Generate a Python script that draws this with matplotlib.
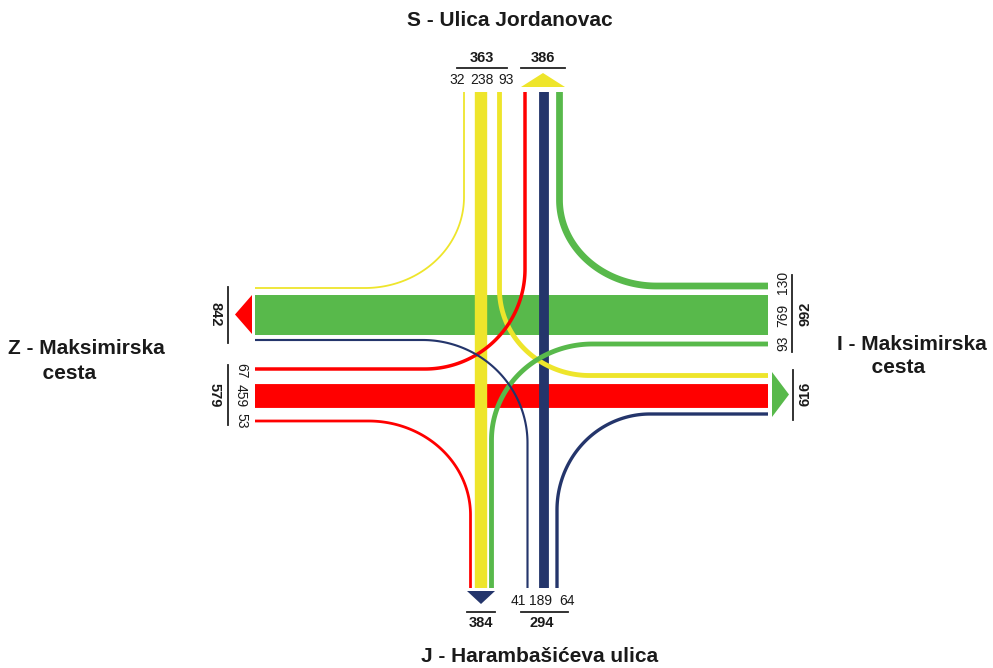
import numpy as np
import matplotlib.pyplot as plt

plt.rcParams['font.family'] = ['Liberation Sans', 'DejaVu Sans']

# counted vehicles per approach, in the order the labels are printed
north = [32, 238, 93]     # right, through, left  (left -> right at the top)
east = [130, 769, 93]     # right, through, left  (top -> bottom on the right)
west = [67, 459, 53]      # left, through, right  (top -> bottom on the left)
south = [41, 189, 64]     # left, through, right  (left -> right at the bottom)

legs = ['S - Ulica Jordanovac', 'J - Harambašićeva ulica',
        'Z - Maksimirska\n      cesta', 'I - Maksimirska\n      cesta']

YEL = '#EEE52B'
GRN = '#58B94B'
RED = '#FF0000'
NAVY = '#24356B'

PX = 0.052          # band width in pixels per vehicle
TOP, BOT, LEFT, RIGHT = 92, 588, 255, 768

fig = plt.figure(figsize=(9.93, 6.68), dpi=100)
ax = fig.add_axes([0, 0, 1, 1])
ax.set_xlim(0, 993)
ax.set_ylim(668, 0)
ax.axis('off')


def lw(v):
    return max(v * PX, 1.8) * 0.72


def turn(v, color, xv, y_edge, yh, x_edge, rx, ry):
    sy = np.sign(y_edge - yh)
    sx = np.sign(x_edge - xv)
    cx, cy = xv + sx * rx, yh + sy * ry
    t = np.linspace(0, np.pi / 2, 80)
    xs = np.concatenate([[xv], cx - sx * rx * np.cos(t), [x_edge]])
    ys = np.concatenate([[y_edge], cy - sy * ry * np.sin(t), [yh]])
    ax.plot(xs, ys, color=color, lw=lw(v), solid_capstyle='butt',
            solid_joinstyle='round', zorder=4)


# through movements
ax.plot([LEFT, RIGHT], [315, 315], color=GRN, lw=lw(east[1]), solid_capstyle='butt', zorder=1)
ax.plot([LEFT, RIGHT], [395.5, 395.5], color=RED, lw=lw(west[1]), solid_capstyle='butt', zorder=1)
ax.plot([481, 481], [TOP, BOT], color=YEL, lw=lw(north[1]), solid_capstyle='butt', zorder=2)
ax.plot([543.5, 543.5], [TOP, BOT], color=NAVY, lw=lw(south[1]), solid_capstyle='butt', zorder=2)

# turning movements
turn(north[0], YEL, 464, TOP, 288, LEFT, 99, 91)
turn(north[2], YEL, 499.5, TOP, 375.5, RIGHT, 90, 86)
turn(east[0], GRN, 559.5, TOP, 286, RIGHT, 97, 86)
turn(east[2], GRN, 491.5, BOT, 344, RIGHT, 101, 96)
turn(west[0], RED, 525, TOP, 369, LEFT, 100, 100)
turn(west[2], RED, 470.5, BOT, 421, LEFT, 102, 94)
turn(south[0], NAVY, 527.5, BOT, 340, LEFT, 105, 103)
turn(south[2], NAVY, 557, BOT, 414, RIGHT, 93, 96)

# exit arrows
ax.fill([521, 565, 543], [87, 87, 73], color=YEL, lw=0)
ax.fill([467, 495, 481], [591, 591, 604], color=NAVY, lw=0)
ax.fill([252, 252, 235], [295, 334, 314.5], color=RED, lw=0)
ax.fill([772, 772, 789], [372, 417, 394.5], color=GRN, lw=0)

# exit volumes
out_w = north[0] + east[1] + south[0]
out_e = north[2] + west[1] + south[2]
out_n = west[0] + south[1] + east[0]
out_s = west[2] + north[1] + east[2]

k = dict(color='#222222', lw=1.3)
num = dict(fontsize=10, color='#1a1a1a', ha='center', va='center')
tot = dict(fontsize=10.5, fontweight='bold', color='#1a1a1a', ha='center', va='center')

# top
ax.plot([457, 507], [68, 68], **k)
ax.plot([521, 565], [68, 68], **k)
ax.text(482, 58, str(sum(north)), **tot)
ax.text(543, 58, str(out_n), **tot)
for x, v in zip([457.5, 482, 506], north):
    ax.text(x, 80, str(v), **num)

# bottom
ax.plot([467, 495], [612, 612], **k)
ax.plot([521, 568], [612, 612], **k)
ax.text(481, 623, str(out_s), **tot)
ax.text(542, 623, str(sum(south)), **tot)
for x, v in zip([518, 541, 567], south):
    ax.text(x, 601, str(v), **num)

# left
ax.plot([228, 228], [287, 343], **k)
ax.plot([228, 228], [365, 425], **k)
ax.text(215, 314, str(out_w), rotation=-90, **tot)
ax.text(215, 395, str(sum(west)), rotation=-90, **tot)
for y, v in zip([371, 396, 421], west):
    ax.text(241, y, str(v), rotation=-90, **num)

# right
ax.plot([792, 792], [275, 352], **k)
ax.plot([793, 793], [370, 420], **k)
ax.text(805, 314, str(sum(east)), rotation=90, **tot)
ax.text(805, 394, str(out_e), rotation=90, **tot)
for y, v in zip([282, 315, 343], east):
    ax.text(783, y, str(v), rotation=90, **num)

# leg names
leg = dict(fontsize=15, fontweight='bold', color='#1a1a1a')
ax.text(510, 21, legs[0], ha='center', va='center', **leg)
ax.text(540, 657, legs[1], ha='center', va='center', **leg)
ax.text(8, 361, legs[2], ha='left', va='center', linespacing=1.4, **leg)
ax.text(837, 356, legs[3], ha='left', va='center', linespacing=1.3, **leg)

fig.savefig('out.png', dpi=100)
